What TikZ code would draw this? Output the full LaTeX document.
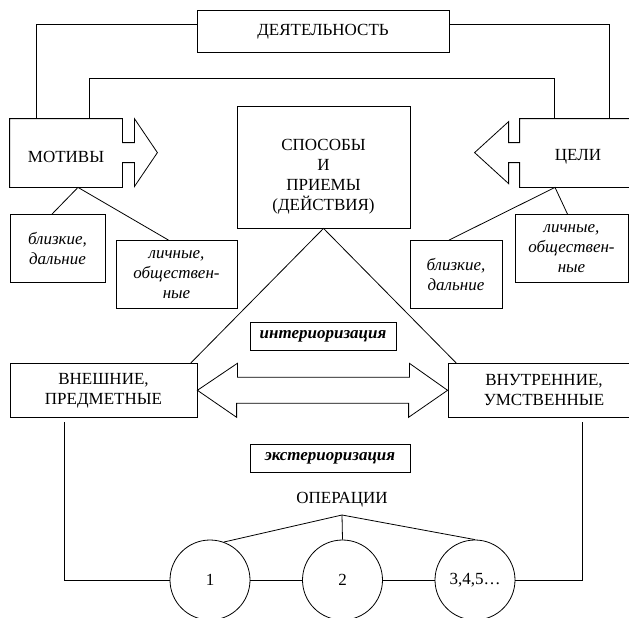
\documentclass[tikz,border=0pt]{standalone}
\usepackage{fontspec}
\setmainfont{Liberation Serif}

\begin{document}
\begin{tikzpicture}[x=1pt,y=-1pt,line width=0.8pt,
    txt/.style={font=\fontsize{17}{20}\selectfont},
    box/.style={draw,txt,align=center,inner sep=0pt},
    ital/.style={box,font=\fontsize{17}{20}\selectfont\itshape},
    boldit/.style={box,font=\fontsize{17}{20}\selectfont\bfseries\itshape},
    circ/.style={draw,txt,circle,minimum size=80pt,inner sep=0pt}]
      \useasboundingbox (0,0) rectangle (629,618);
      \clip (0,0) rectangle (629,618);

      \node[box,minimum width=252pt,minimum height=41.6pt] (act) at (323,31.5) {ДЕЯТЕЛЬНОСТЬ};
      \node[txt,minimum width=112pt,minimum height=68pt,text height=19pt] (mot) at (66,153) {МОТИВЫ};
      \node[txt,minimum width=116pt,minimum height=68pt,text height=19pt] (goal) at (578,153) {ЦЕЛИ};
      \node[box,minimum width=173pt,minimum height=122pt,text height=91pt] (way) at (323.5,167) {СПОСОБЫ\\И\\ПРИЕМЫ\\(ДЕЙСТВИЯ)};

      \node[ital,minimum width=95pt,minimum height=68pt] (mnear) at (57.5,248.5) {близкие,\\дальние};
      \node[ital,minimum width=121pt,minimum height=68pt] (mpers) at (176.5,274.5) {личные,\\обществен-\\ные};
      \node[ital,minimum width=92pt,minimum height=68pt] (gnear) at (456,274.5) {близкие,\\дальние};
      \node[ital,minimum width=113pt,minimum height=68pt] (gpers) at (571.5,248.5) {личные,\\обществен-\\ные};

      \node[boldit,minimum width=146pt,minimum height=28pt] (inter) at (323,336.7) {интериоризация};
      \node[box,minimum width=187pt,minimum height=54pt] (outer) at (103.5,390.3) {ВНЕШНИЕ,\\ПРЕДМЕТНЫЕ};
      \node[box,minimum width=192pt,minimum height=54pt] (inner) at (544,390.3) {ВНУТРЕННИЕ,\\УМСТВЕННЫЕ};
      \node[boldit,minimum width=160pt,minimum height=28pt] (ext) at (330,458) {экстериоризация};

      \node[txt] (oper) at (342,500) {ОПЕРАЦИИ};
      \coordinate (fork) at (342,515);
      \node[circ] (c1) at (210,580) {1};
      \node[circ,right of=c1,node distance=132.5pt] (c2) {2};
      \node[circ,right of=c2,node distance=132.5pt] (c3) {3,4,5…};

      \draw ([yshift=7.2pt]act.west) -| ([xshift=27pt]mot.north west);
      \draw ([yshift=7.2pt]act.east) -| ([xshift=-27pt]goal.north east);
      \draw ([xshift=80pt]mot.north west) -- ++(0,-40) -| ([xshift=35pt]goal.north west);

      \draw (mot.north west) -- (mot.north east) -- ++(0,24) -- ++(12,0) -- ++(0,-24) -- ++(23,34)
        -- ++(-23,34) -- ++(0,-24) -- ++(-12,0) -- (mot.south east) -- (mot.south west) -- cycle;
      \draw (goal.north east) -- (goal.north west) -- ++(0,24) -- ++(-11,0) -- ++(0,-21) -- ++(-34,31)
        -- ++(34,31) -- ++(0,-21) -- ++(11,0) -- (goal.south west) -- (goal.south east);

      \draw ([xshift=-5.5pt]mnear.north) -- ([xshift=12pt]mot.south) -- ([xshift=-8pt]mpers.north);
      \draw ([xshift=-7pt]gnear.north) -- ([xshift=-23pt]goal.south) -- ([xshift=-4pt]gpers.north);

      \draw ([xshift=-6.5pt]outer.north east) -- (way.south) -- ([xshift=8.5pt]inner.north west);
      \draw (outer.east) -- ++(40,-27) -- ++(0,14) -- ++(172,0) -- ++(0,-14) -- (inner.west)
        -- ++(-39,27) -- ++(0,-14) -- ++(-172,0) -- ++(0,14) -- cycle;

      \draw (c1.70) -- (fork) -- (c3.north);
      \draw (fork) -- (c2.north);
      \draw (c1.east) -- (c2.west) (c2.east) -- (c3.west);
      \draw ([xshift=-39.5pt,yshift=-4.4pt]outer.south) |- (c1.west);
      \draw ([xshift=38.3pt,yshift=-4.4pt]inner.south) |- (c3.east);
    \end{tikzpicture}
\end{document}
